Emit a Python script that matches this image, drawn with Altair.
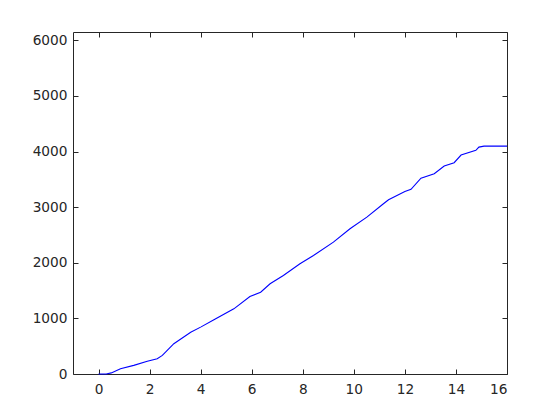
import altair as alt
import pandas as pd

# Data
x_vals = [0, 0.3, 0.5, 0.86, 1.38, 1.91, 2.3, 2.5, 2.95, 3.61, 4.0, 4.52, 5.3, 5.93,
          6.35, 6.72, 7.24, 7.89, 8.42, 9.2, 9.85, 10.51, 11.16, 11.36, 12.0, 12.24,
          12.63, 13.15, 13.54, 13.93, 14.2, 14.78, 14.9, 15.1, 16]
y_vals = [0, 0, 20, 95, 155, 228, 275, 335, 545, 752, 843, 975, 1172, 1394,
          1470, 1623, 1772, 1983, 2132, 2371, 2612, 2821, 3062, 3134, 3280, 3322,
          3520, 3600, 3740, 3800, 3938, 4022, 4080, 4098, 4098]
x_ticks = [0, 2, 4, 6, 8, 10, 12, 14, 16]
y_ticks = [0, 1000, 2000, 3000, 4000, 5000, 6000]

df = pd.DataFrame({"x": x_vals, "y": y_vals})

W, H = 434, 342
AX = "#262626"
FONT = "DejaVu Sans"

xs = alt.Scale(domain=[-1, 16], nice=False, zero=False)
ys = alt.Scale(domain=[0, 6150], nice=False, zero=False)

common = dict(grid=False, domain=False, tickColor=AX, tickSize=5, tickWidth=1,
              labelColor=AX, labelFont=FONT, labelFontSize=13.7, format="d")

main = alt.Chart(df).mark_line(color="#0000ff", strokeWidth=1.1).encode(
    x=alt.X("x:Q", scale=xs, title=None,
            axis=alt.Axis(orient="bottom", offset=-5, values=x_ticks, labelPadding=8, **common)),
    y=alt.Y("y:Q", scale=ys, title=None,
            axis=alt.Axis(orient="left", offset=-5, values=y_ticks, labelPadding=6, **common)),
)

mirror = alt.Chart(df).mark_line(opacity=0).encode(
    x=alt.X("x:Q", scale=xs, title=None,
            axis=alt.Axis(orient="top", offset=-5, values=x_ticks, labels=False, **common)),
    y=alt.Y("y:Q", scale=ys, title=None,
            axis=alt.Axis(orient="right", offset=-5, values=y_ticks, labels=False, **common)),
)

chart = alt.layer(main, mirror).resolve_axis(x="independent", y="independent").properties(
    width=W, height=H,
    autosize=alt.AutoSizeParams(type="none"),
    padding={"left": 65, "top": 24, "right": 30, "bottom": 30},
).configure_view(stroke=AX, strokeWidth=1)

chart.save("out.html", embed_options={"renderer": "svg", "actions": False})
